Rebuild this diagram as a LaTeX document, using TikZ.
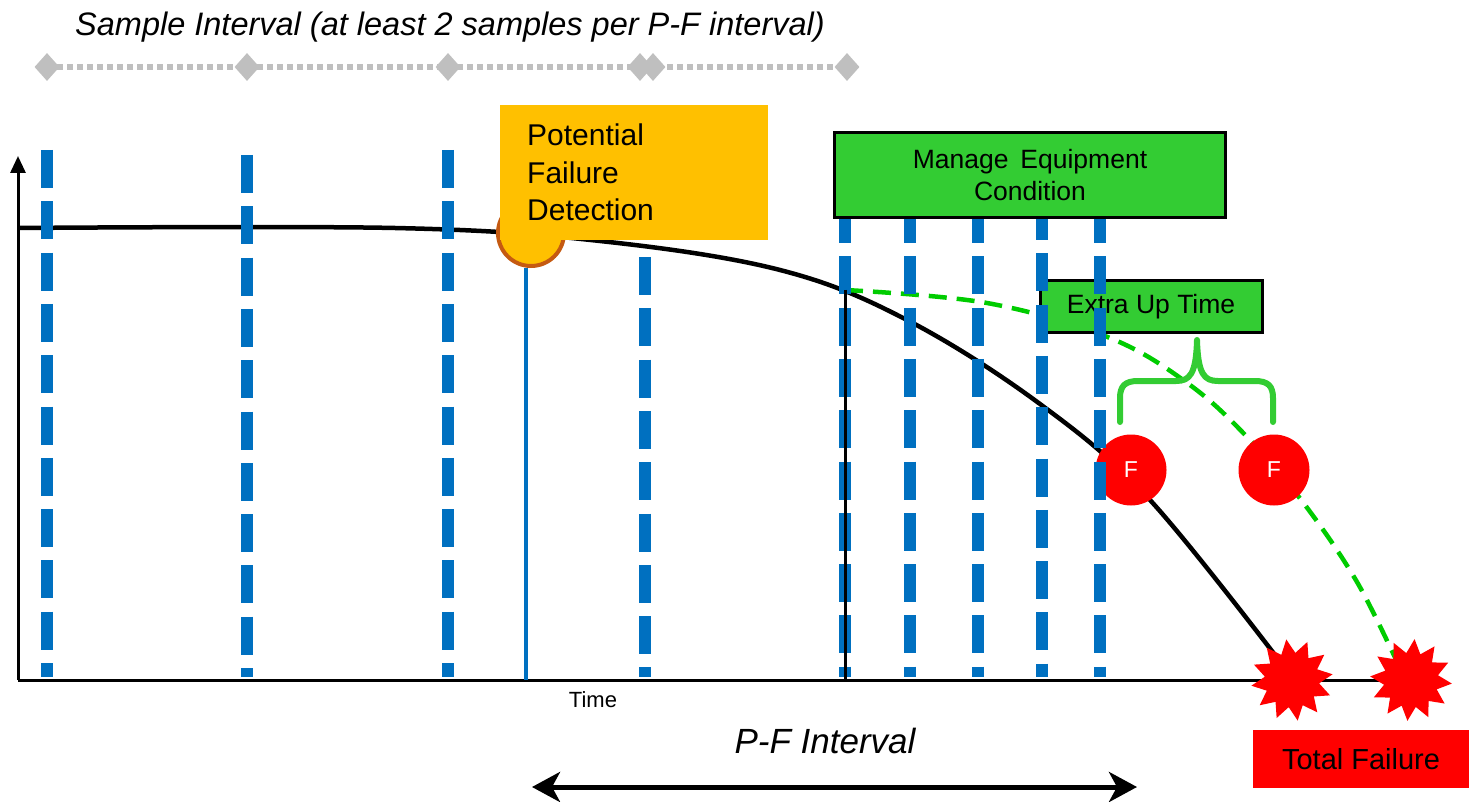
\documentclass[tikz,border=0pt]{standalone}
\usepackage{fontspec}
\setmainfont{Liberation Sans}
\usetikzlibrary{arrows.meta,shapes.geometric}
\definecolor{sampleblue}{HTML}{0070C0}
\definecolor{pforange}{HTML}{FFC000}
\definecolor{pfbrown}{HTML}{C55A11}
\definecolor{boxgreen}{HTML}{33CC33}
\definecolor{dashgreen}{HTML}{00CC00}
\definecolor{failred}{HTML}{FF0000}
\definecolor{markgray}{HTML}{BFBFBF}
\tikzset{
  fsize/.style={font=\fontsize{#1}{#1}\selectfont},
  samplemark/.style={diamond, fill=markgray, minimum width=25pt, minimum height=28pt, inner sep=0pt},
  sampleline/.style={draw=markgray, line width=6pt, dash pattern=on 6pt off 4pt},
  sampledash/.style={draw=sampleblue, line width=12pt, dash pattern=on 38pt off 13.3pt},
  axisline/.style={draw=black, line width=3pt},
  wearcurve/.style={draw=black, line width=4.5pt, line join=round},
  extracurve/.style={draw=dashgreen, line width=4.5pt, dash pattern=on 18pt off 10pt},
  greenbox/.style={draw=black, line width=3pt, fill=boxgreen, inner sep=0pt, align=center},
  fcircle/.style={circle, fill=failred, text=white, minimum size=71pt, inner sep=0pt, fsize=23},
  burst/.style={star, star points=12, star point ratio=1.5, fill=failred, minimum size=82pt, inner sep=0pt},
  bracket/.style={draw=boxgreen, line width=6pt, line cap=round, line join=round},
}
\begin{document}
\begin{tikzpicture}[x=1pt, y=-1pt]
\useasboundingbox (0,0) rectangle (1470,802);

% sample interval marks
\node[font=\fontsize{32.5}{32.5}\selectfont\itshape, anchor=base west, inner sep=0pt] (sampletitle) at (75,36)
  {Sample Interval (at least 2 samples per P-F interval)};
\coordinate (s1) at (47,67);
\coordinate (s6) at (847,67);
\draw[sampleline] (s1) -- (s6);
\foreach \n/\x in {d1/47, d2/247, d3/448, d4/640, d5/653, d6/847}
  \node[samplemark] (\n) at (\x,67) {};

% axes
\coordinate (origin) at (18,680);
\coordinate (ytop) at (18,156);
\coordinate (xend) at (1390,680);
\draw[axisline, -{Triangle[length=17pt, width=15pt]}] (origin) -- (ytop);
\draw[axisline] (origin) -- (xend);

% condition curves
\draw[wearcurve] plot[smooth, tension=0.6] coordinates {
  (18,228) (395,228) (600,241) (780,270) (907,320) (1040,404) (1150,500) (1288,672)};
\draw[extracurve] plot[smooth, tension=0.6] coordinates {
  (845,290) (987,303) (1110,338) (1190,385) (1250,440) (1305,505) (1357,582) (1398,664)};

% extra up time label and failure points
\node[greenbox, minimum width=222pt, minimum height=52pt, fsize=26.5] (extra) at (1151,307) {Extra Up Time};
\node[fcircle] (f1) at (1131,470) {F};
\node[fcircle] (f2) at (1274,470) {F};

% inspection sample lines
\foreach \x/\t in {47/150, 247/155, 448/150, 645/257, 845/205, 910/205, 978/205, 1042/202, 1100/205}
  \draw[sampledash] (\x,\t) -- (\x,677);

% detection point and start of condition management
\node[circle, fill=pforange, draw=pfbrown, line width=4pt, minimum size=66pt, inner sep=0pt] (pdot) at (531,233) {};
\coordinate (pbase) at (526,680);
\draw[draw=sampleblue, line width=4pt] (pdot.south) ++(-5,0) -- (pbase);
\node[fill=pforange, minimum width=268pt, minimum height=135pt, inner sep=0pt] (pfbox) at (634,172.5) {};
\node[font=\fontsize{30}{37.5}\selectfont, align=left, anchor=north west, inner sep=0pt] (pftext) at (527,124)
  {Potential\\Failure\\Detection};
\coordinate (mstart) at (845,290);
\coordinate (mbase) at (845,680);
\draw[draw=black, line width=3pt] (mstart) -- (mbase);
\node[greenbox, minimum width=391pt, minimum height=85pt, font=\fontsize{26.5}{32}\selectfont] (manage) at (1030,175)
  {Manage\hspace{0.45em}Equipment\\Condition};

% extra up time bracket
\draw[bracket] (1120,422) -- (1120,398) .. controls (1120,386) and (1125,381) .. (1138,381)
  -- (1176,381) .. controls (1190,381) and (1196,374) .. (1197,340)
  .. controls (1198,374) and (1204,381) .. (1218,381) -- (1255,381)
  .. controls (1268,381) and (1273,386) .. (1273,398) -- (1273,422);

% total failure
\node[burst, rotate=8] (tf1) at (1292,680) {};
\node[burst, rotate=-5] (tf2) at (1411,680) {};
\node[fill=failred, minimum width=216pt, minimum height=58pt, inner sep=0pt, fsize=29] (total) at (1361,759) {Total Failure};

% time axis labels
\node[fsize=22] (timelabel) at (593,700) {Time};
\node[font=\fontsize{35}{35}\selectfont\itshape] (pflabel) at (825,741) {P-F Interval};
\coordinate (pfl) at (532,787);
\coordinate (pfr) at (1137,787);
\draw[line width=5pt, {Stealth[length=28pt, width=30pt, inset=8pt]}-{Stealth[length=28pt, width=30pt, inset=8pt]}] (pfl) -- (pfr);
\end{tikzpicture}
\end{document}
